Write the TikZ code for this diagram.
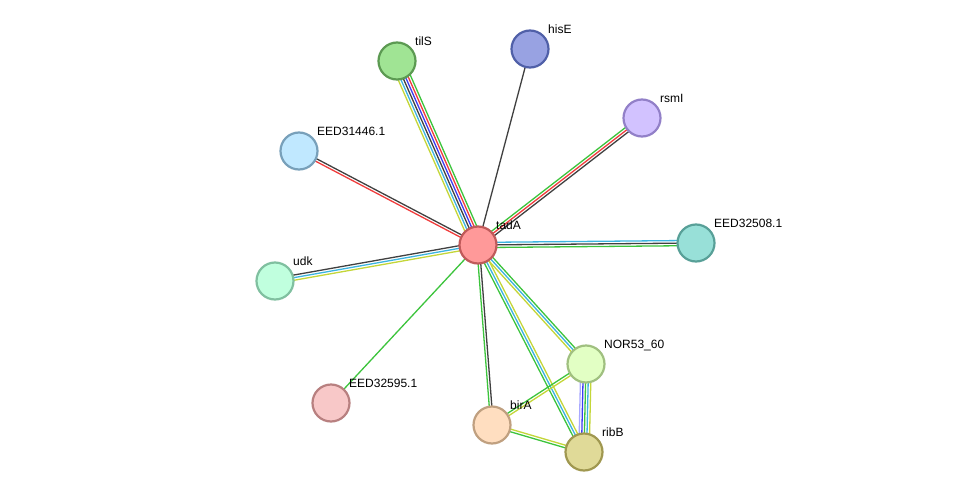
\documentclass[tikz,border=0pt]{standalone}
\usepackage{fontspec}
\setmainfont{Liberation Sans}
\usetikzlibrary{calc,backgrounds}
\definecolor{sgreen}{HTML}{3CC43C}
\definecolor{syellow}{HTML}{C4D638}
\definecolor{scyan}{HTML}{3CB4E0}
\definecolor{sblack}{HTML}{404040}
\definecolor{sblue}{HTML}{3C3CF0}
\definecolor{sred}{HTML}{F03C3C}
\definecolor{slav}{HTML}{A8A8FF}
\tikzset{
  prot/.style={circle, minimum size=37pt, inner sep=0pt, line width=2.2pt},
  lbl/.style={anchor=base west, inner sep=0pt, font=\fontsize{12pt}{14pt}\selectfont},
  edgeline/.style={line width=1.3pt},
}
\newcommand\multiedge[4]{%
  \foreach \c [count=\i] in {#4} {%
    \pgfmathsetmacro\off{(\i-(#3+1)/2)*2.6}%
    \draw[edgeline, color=\c] ($(#1)!\off pt!90:(#2)$) -- ($(#2)!\off pt!-90:(#1)$);
  }%
}
\begin{document}
\begin{tikzpicture}[x=1pt,y=-1pt]
\useasboundingbox (0,0) rectangle (975,498);
% nodes
\node[prot, fill={rgb,255:red,255;green,153;blue,153}, draw={rgb,255:red,192;green,90;blue,90}] (tadA) at (478,245) {};
\node[prot, fill={rgb,255:red,160;green,228;blue,148}, draw={rgb,255:red,92;green,154;blue,82}] (tilS) at (397,61) {};
\node[prot, fill={rgb,255:red,152;green,162;blue,226}, draw={rgb,255:red,80;green,96;blue,168}] (hisE) at (530,49) {};
\node[prot, fill={rgb,255:red,210;green,194;blue,255}, draw={rgb,255:red,146;green,128;blue,200}] (rsmI) at (642,118) {};
\node[prot, fill={rgb,255:red,192;green,232;blue,255}, draw={rgb,255:red,120;green,160;blue,186}] (e31446) at (299,151) {};
\node[prot, fill={rgb,255:red,152;green,224;blue,216}, draw={rgb,255:red,88;green,160;blue,152}] (e32508) at (696,243) {};
\node[prot, fill={rgb,255:red,192;green,255;blue,222}, draw={rgb,255:red,128;green,192;blue,160}] (udk) at (275,281) {};
\node[prot, fill={rgb,255:red,248;green,200;blue,200}, draw={rgb,255:red,184;green,128;blue,128}] (e32595) at (331,403) {};
\node[prot, fill={rgb,255:red,226;green,255;blue,196}, draw={rgb,255:red,160;green,192;blue,128}] (nor) at (586,364) {};
\node[prot, fill={rgb,255:red,255;green,222;blue,192}, draw={rgb,255:red,192;green,160;blue,128}] (birA) at (492,425) {};
\node[prot, fill={rgb,255:red,224;green,218;blue,152}, draw={rgb,255:red,160;green,152;blue,80}] (ribB) at (584,452) {};
% edges
\begin{scope}[on background layer]
\fill[white] (0,0) rectangle (975,498);
\multiedge{tadA}{tilS}{6}{sgreen,sred,sblue,sblack,scyan,syellow}
\multiedge{tadA}{hisE}{1}{sblack}
\multiedge{tadA}{rsmI}{3}{sblack,sred,sgreen}
\multiedge{tadA}{e31446}{2}{sblack,sred}
\multiedge{tadA}{e32508}{3}{sgreen,sblack,scyan}
\multiedge{tadA}{udk}{3}{sblack,scyan,syellow}
\multiedge{tadA}{e32595}{1}{sgreen}
\multiedge{tadA}{birA}{2}{sgreen,sblack}
\multiedge{tadA}{nor}{3}{syellow,scyan,sgreen}
\multiedge{tadA}{ribB}{3}{sgreen,scyan,syellow}
\multiedge{nor}{ribB}{5}{slav,sblue,sgreen,scyan,syellow}
\multiedge{nor}{birA}{2}{sgreen,syellow}
\multiedge{birA}{ribB}{2}{sgreen,syellow}
\end{scope}
% labels
\node[lbl] (ltadA) at ($(tadA)+(18,-16)$) {tadA};
\node[lbl] (ltilS) at ($(tilS)+(18,-16)$) {tilS};
\node[lbl] (lhisE) at ($(hisE)+(18,-16)$) {hisE};
\node[lbl] (lrsmI) at ($(rsmI)+(18,-16)$) {rsmI};
\node[lbl] (l31446) at ($(e31446)+(18,-16)$) {EED31446.1};
\node[lbl] (l32508) at ($(e32508)+(18,-16)$) {EED32508.1};
\node[lbl] (ludk) at ($(udk)+(18,-16)$) {udk};
\node[lbl] (l32595) at ($(e32595)+(18,-16)$) {EED32595.1};
\node[lbl] (lnor) at ($(nor)+(18,-16)$) {NOR53\_60};
\node[lbl] (lbirA) at ($(birA)+(18,-16)$) {birA};
\node[lbl] (lribB) at ($(ribB)+(18,-16)$) {ribB};
\end{tikzpicture}
\end{document}
